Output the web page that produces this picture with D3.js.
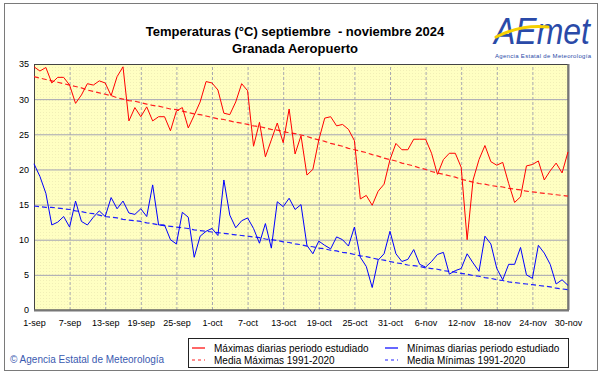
<!DOCTYPE html>
<html>
<head>
<meta charset="utf-8">
<script src="https://cdn.jsdelivr.net/npm/d3@7"></script>
<style>
  body { margin: 0; background: #fff; }
  svg { display: block; font-family: "Liberation Sans", Arial, sans-serif; }
</style>
</head>
<body>
<script>
// daily values, 1-sep .. 30-nov 2024
var maxDaily = [34.6, 34.0, 34.5, 32.3, 33.1, 33.1, 32.0, 29.4, 30.6, 32.2,
  32.0, 32.6, 32.3, 30.5, 33.2, 34.6, 26.9, 28.8, 27.5, 28.9,
  26.9, 27.5, 27.5, 25.5, 28.3, 28.8, 25.9, 27.7, 29.6, 32.5,
  32.3, 31.3, 28.0, 27.8, 29.6, 32.2, 31.2, 23.3, 26.7, 21.8,
  24.2, 26.6, 23.8, 28.6, 22.2, 24.8, 19.2, 20.0, 24.2, 27.3,
  27.5, 26.2, 26.4, 25.7, 24.1, 15.8, 16.3, 14.9, 16.9, 17.9,
  21.4, 23.7, 22.8, 22.8, 24.3, 24.3, 24.3, 22.3, 19.3, 21.4,
  22.3, 22.3, 20.3, 10.0, 18.5, 21.4, 23.4, 21.1, 20.6, 21.0,
  18.0, 15.3, 16.1, 20.5, 20.7, 21.2, 18.5, 19.8, 20.9, 19.5, 22.5];

var minDaily = [20.8, 19.0, 16.6, 12.1, 12.5, 13.3, 11.8, 15.5, 12.6, 12.1,
  13.2, 14.1, 13.3, 16.0, 14.4, 15.5, 13.8, 13.6, 14.4, 13.3,
  17.8, 12.1, 12.1, 10.0, 9.4, 13.9, 13.2, 7.5, 10.5, 11.2,
  11.6, 10.6, 18.5, 13.5, 11.7, 12.7, 13.1, 11.6, 9.5, 12.3,
  8.8, 15.4, 14.7, 15.9, 14.3, 15.0, 9.2, 8.0, 9.8, 9.2,
  8.7, 10.4, 10.0, 9.1, 11.8, 7.5, 6.2, 3.2, 7.1, 8.0,
  11.2, 8.0, 6.9, 7.2, 8.6, 6.5, 6.1, 6.9, 7.9, 8.2,
  5.1, 5.6, 5.9, 8.0, 6.7, 5.5, 10.5, 9.4, 5.9, 4.3,
  6.5, 6.5, 8.9, 5.0, 4.5, 9.2, 8.1, 6.5, 3.7, 4.3, 3.5];

var maxNormal = [33.2, 33.0, 32.8, 32.6, 32.4, 32.2, 32.0, 31.8, 31.6, 31.3,
  31.1, 30.9, 30.7, 30.5, 30.2, 30.0, 29.8, 29.7, 29.5, 29.3,
  29.1, 29.0, 28.8, 28.6, 28.5, 28.3, 28.1, 27.9, 27.8, 27.6,
  27.4, 27.2, 27.1, 26.9, 26.7, 26.6, 26.4, 26.2, 26.1, 25.9,
  25.7, 25.6, 25.4, 25.2, 25.1, 24.9, 24.7, 24.4, 24.2, 24.0,
  23.7, 23.5, 23.3, 23.0, 22.8, 22.6, 22.4, 22.1, 21.9, 21.6,
  21.4, 21.2, 20.9, 20.7, 20.5, 20.2, 20.0, 19.7, 19.5, 19.3,
  19.1, 18.9, 18.6, 18.4, 18.2, 18.0, 17.9, 17.7, 17.6, 17.5,
  17.3, 17.2, 17.1, 16.9, 16.8, 16.7, 16.6, 16.5, 16.4, 16.3, 16.2];

var minNormal = [14.8, 14.7, 14.6, 14.6, 14.5, 14.4, 14.3, 14.1, 14.0, 13.8,
  13.7, 13.5, 13.3, 13.2, 13.1, 12.9, 12.8, 12.7, 12.6, 12.4,
  12.3, 12.1, 12.0, 11.9, 11.8, 11.7, 11.6, 11.4, 11.3, 11.2,
  11.1, 11.0, 10.9, 10.8, 10.7, 10.6, 10.5, 10.4, 10.3, 10.1,
  10.0, 9.9, 9.7, 9.6, 9.4, 9.3, 9.1, 9.0, 8.8, 8.7,
  8.5, 8.4, 8.2, 8.1, 7.9, 7.7, 7.6, 7.4, 7.2, 7.1,
  6.9, 6.7, 6.6, 6.4, 6.3, 6.2, 6.0, 5.9, 5.8, 5.6,
  5.5, 5.4, 5.2, 5.1, 4.9, 4.8, 4.6, 4.5, 4.3, 4.2,
  4.0, 3.9, 3.8, 3.7, 3.6, 3.5, 3.4, 3.3, 3.1, 3.0, 2.9];

var xTickLabels = ["1-sep", "7-sep", "13-sep", "19-sep", "25-sep", "1-oct", "7-oct", "13-oct",
  "19-oct", "25-oct", "31-oct", "6-nov", "12-nov", "18-nov", "24-nov", "30-nov"];
var yTicks = [0, 5, 10, 15, 20, 25, 30, 35];

var svgWidth = 601;
var svgHeight = 374;
var plot = { left: 34, right: 568, top: 64, bottom: 310 };

var svg = d3.select("body")
  .append("svg")
  .attr("width", svgWidth)
  .attr("height", svgHeight);

// dotted yellow background
var pat = svg.append("defs").append("pattern")
  .attr("id", "dots")
  .attr("width", 3)
  .attr("height", 3)
  .attr("patternUnits", "userSpaceOnUse");
pat.append("rect").attr("width", 3).attr("height", 3).attr("fill", "#ffffc2");
pat.append("rect").attr("x", 1).attr("y", 1).attr("width", 1).attr("height", 1).attr("fill", "#f1efb6");

// outer frame
svg.append("rect")
  .attr("x", 4.5).attr("y", 3.5)
  .attr("width", 593).attr("height", 367)
  .attr("fill", "none")
  .attr("stroke", "#7a7a7a");

var xScale = d3.scaleLinear()
  .domain([0, maxDaily.length - 1])
  .range([plot.left, plot.right]);

var yScale = d3.scaleLinear()
  .domain([0, 35])
  .range([plot.bottom, plot.top]);

svg.append("rect")
  .attr("x", plot.left).attr("y", plot.top)
  .attr("width", plot.right - plot.left)
  .attr("height", plot.bottom - plot.top)
  .attr("fill", "url(#dots)");

// horizontal grid
var yAxis = d3.axisLeft(yScale)
  .tickValues(yTicks)
  .tickSize(-(plot.right - plot.left))
  .tickPadding(6)
  .tickFormat(d3.format("d"));

var yAxisG = svg.append("g")
  .attr("transform", `translate(${plot.left},0)`)
  .call(yAxis);
yAxisG.select(".domain").remove();
yAxisG.selectAll("line").attr("stroke", "#a4a4b4");
yAxisG.selectAll("text")
  .attr("font-size", "9px")
  .attr("fill", "#000")
  .attr("font-family", "Liberation Sans, Arial, sans-serif")
  .attr("x", -5);

// vertical dashed grid
var xTickVals = xTickLabels.map((d, i) => i * 6);
var xAxis = d3.axisBottom(xScale)
  .tickValues(xTickVals)
  .tickSize(-(plot.bottom - plot.top))
  .tickPadding(10)
  .tickFormat((d, i) => xTickLabels[i]);

var xAxisG = svg.append("g")
  .attr("transform", `translate(0,${plot.bottom})`)
  .call(xAxis);
xAxisG.select(".domain").remove();
xAxisG.selectAll("line")
  .attr("stroke", "#a8a8b0")
  .attr("stroke-dasharray", "3,2");
xAxisG.selectAll("text")
  .attr("font-size", "9px")
  .attr("fill", "#000")
  .attr("font-family", "Liberation Sans, Arial, sans-serif");

// plot frame
svg.append("rect")
  .attr("x", plot.left + 0.5).attr("y", plot.top + 0.5)
  .attr("width", plot.right - plot.left - 0.5)
  .attr("height", plot.bottom - plot.top - 0.5)
  .attr("fill", "none")
  .attr("stroke", "#444");
svg.append("line")
  .attr("x1", plot.left).attr("x2", plot.right + 1)
  .attr("y1", plot.bottom + 0.5).attr("y2", plot.bottom + 0.5)
  .attr("stroke", "#777")
  .attr("stroke-width", 2);
svg.append("line")
  .attr("x1", plot.right + 0.5).attr("x2", plot.right + 0.5)
  .attr("y1", plot.top).attr("y2", plot.bottom)
  .attr("stroke", "#777")
  .attr("stroke-width", 2);

var line = d3.line()
  .x((d, i) => xScale(i))
  .y(d => yScale(d));

function drawSeries(data, color, dashed) {
  svg.append("path")
    .datum(data)
    .attr("d", line)
    .attr("fill", "none")
    .attr("stroke", color)
    .attr("stroke-width", dashed ? 1.2 : 1)
    .attr("stroke-dasharray", dashed ? "5,3" : null);
}

drawSeries(maxNormal, "#ff2020", true);
drawSeries(minNormal, "#2020ff", true);
drawSeries(maxDaily, "#ff0000", false);
drawSeries(minDaily, "#0000ff", false);

// titles
svg.append("text")
  .attr("x", 295).attr("y", 36)
  .attr("text-anchor", "middle")
  .attr("font-size", "13px")
  .attr("font-weight", "bold")
  .style("white-space", "pre")
  .text("Temperaturas (°C) septiembre  - noviembre 2024");
svg.append("text")
  .attr("x", 295).attr("y", 53)
  .attr("text-anchor", "middle")
  .attr("font-size", "13px")
  .attr("font-weight", "bold")
  .text("Granada Aeropuerto");

// logo
var logo = svg.append("g");
logo.append("text")
  .attr("x", 494).attr("y", 44)
  .attr("font-size", "36px")
  .attr("font-style", "italic")
  .attr("fill", "#2a4aa8")
  .attr("textLength", 96)
  .attr("lengthAdjust", "spacingAndGlyphs")
  .text("AEmet");
logo.append("path")
  .attr("d", "M496,37 C512,29 530,25 548,27")
  .attr("fill", "none")
  .attr("stroke", "#f5d000")
  .attr("stroke-width", 3)
  .attr("stroke-linecap", "round");
logo.append("text")
  .attr("x", 543).attr("y", 58)
  .attr("text-anchor", "middle")
  .attr("font-size", "6px")
  .attr("fill", "#2a4aa8")
  .attr("textLength", 96)
  .text("Agencia Estatal de Meteorología");

// copyright
svg.append("text")
  .attr("x", 10).attr("y", 363)
  .attr("font-size", "10px")
  .attr("fill", "#3a5ab0")
  .text("© Agencia Estatal de Meteorología");

// legend
var legendItems = [
  { label: "Máximas diarias periodo estudiado", color: "#ff0000", dash: null, col: 0, row: 0 },
  { label: "Media Máximas 1991-2020", color: "#ff2020", dash: "3,3", col: 0, row: 1 },
  { label: "Mínimas diarias periodo estudiado", color: "#0000ff", dash: null, col: 1, row: 0 },
  { label: "Media Mínimas 1991-2020", color: "#2020ff", dash: "3,3", col: 1, row: 1 }
];

svg.append("rect")
  .attr("x", 188.5).attr("y", 338.5)
  .attr("width", 380).attr("height", 29)
  .attr("fill", "#fff")
  .attr("stroke", "#222");

var legend = svg.selectAll(".legend")
  .data(legendItems)
  .enter()
  .append("g")
  .attr("transform", d => `translate(${192 + d.col * 193},${348 + d.row * 12})`);

legend.append("line")
  .attr("x1", 0).attr("x2", 13)
  .attr("y1", 0).attr("y2", 0)
  .attr("stroke", d => d.color)
  .attr("stroke-width", 1.2)
  .attr("stroke-dasharray", d => d.dash);

legend.append("text")
  .attr("x", 22).attr("y", 3.5)
  .attr("font-size", "10px")
  .attr("fill", "#000")
  .text(d => d.label);
</script>
</body>
</html>
